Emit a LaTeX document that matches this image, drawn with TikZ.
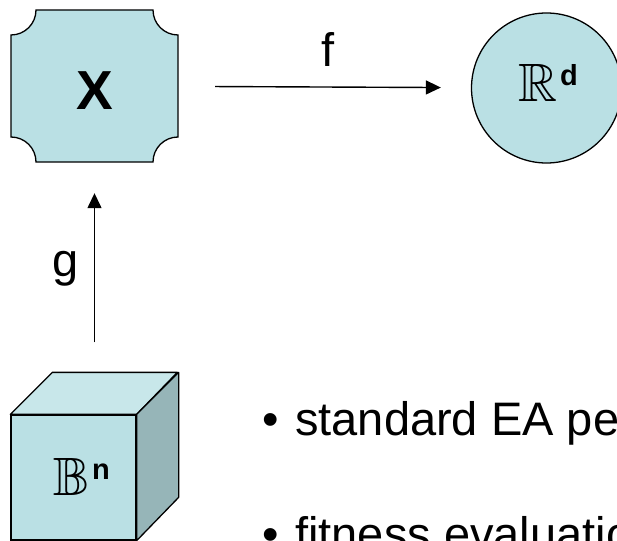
\documentclass[tikz,border=0pt]{standalone}
\usepackage{amssymb}
\usepackage{fontspec}
\setmainfont{Liberation Sans}
\usetikzlibrary{arrows.meta}
\definecolor{facefront}{RGB}{186,224,228}
\definecolor{facetop}{RGB}{200,231,234}
\definecolor{faceside}{RGB}{150,181,184}
\tikzset{
  shapeline/.style={draw=black, line width=1.3pt},
  arr/.style={line width=1.4pt, -{Triangle[length=15pt,width=14pt]}},
  lbl/.style={inner sep=0pt, anchor=base, font=\fontsize{47}{56}\selectfont},
  bbtext/.style={inner sep=0pt, anchor=base west, font=\fontsize{54}{60}\selectfont},
  suptext/.style={inner sep=0pt, anchor=base west, font=\fontsize{29}{32}\selectfont\bfseries},
}
\begin{document}
\begin{tikzpicture}[x=1pt,y=-1pt]
\useasboundingbox (0,0) rectangle (617,540);
\begin{scope}
\clip (0,0) rectangle (617,540);
% X box with concave corners
\node[minimum width=167pt, minimum height=152pt, inner sep=0pt] (X) at (94.5,86) {};
\filldraw[fill=facefront, shapeline]
  (36,10) -- (153,10) arc[start angle=180, end angle=270, radius=25pt]
  -- (178,137) arc[start angle=90, end angle=180, radius=25pt]
  -- (36,162) arc[start angle=0, end angle=90, radius=25pt]
  -- (11,35) arc[start angle=-90, end angle=0, radius=25pt] -- cycle;
\node[inner sep=0pt, anchor=base, font=\fontsize{55}{60}\selectfont\bfseries] (Xl) at (94.5,110) {X};
% circle R^d
\node[circle, minimum size=150pt, inner sep=0pt, fill=facefront, shapeline] (R) at (546.5,88) {};
\node[bbtext] (Rl) at (518,102) {$\mathbb{R}$};
\node[suptext] (Rs) at (560,86) {d};
% cube B^n
\node[minimum width=125pt, minimum height=125pt, inner sep=0pt, fill=facefront, shapeline] (B) at (73.5,477.5) {};
\filldraw[fill=facetop, shapeline, line join=round] (B.north west) -- ++(42,-42) -- ++(125,0) -- (B.north east) -- cycle;
\filldraw[fill=faceside, shapeline, line join=round] (B.north east) -- ++(42,-42) -- ++(0,125) -- (B.south east) -- cycle;
\node[bbtext] (Bl) at (53,495) {$\mathbb{B}$};
\node[suptext] (Bs) at (92,479) {n};
% arrows
\draw[arr, shorten <=37pt, shorten >=30pt] (X) -- (R);
\node[lbl] (fl) at (328,67) {f};
\draw[arr, shorten <=72pt, shorten >=31pt] (B.north -| X.south) -- (X.south);
\node[lbl] (gl) at (66,276) {g};
% bullets
\node[lbl] (b1) at (271,435) {•};
\node[inner sep=0pt, anchor=base west, font=\fontsize{47}{56}\selectfont] (t1) at (295,435) {standard EA pe};
\node[lbl] (b2) at (271,550) {•};
\node[inner sep=0pt, anchor=base west, font=\fontsize{47}{56}\selectfont] (t2) at (295,550) {fitness evaluatio};
\end{scope}
\end{tikzpicture}
\end{document}
